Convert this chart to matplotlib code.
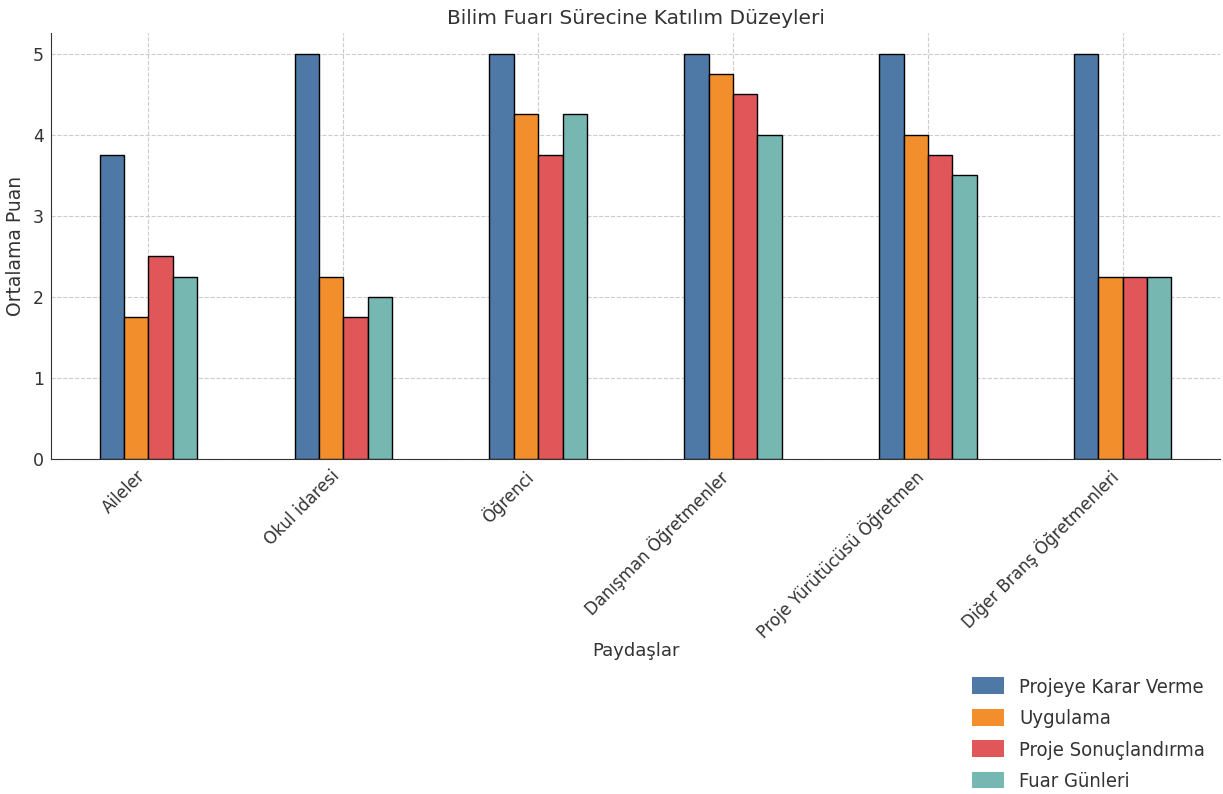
import matplotlib.pyplot as plt
import numpy as np

# data
stakeholders = ["Aileler", "Okul idaresi", "Öğrenci", "Danışman Öğretmenler",
                "Proje Yürütücüsü Öğretmen", "Diğer Branş Öğretmenleri"]
series_names = ["Projeye Karar Verme", "Uygulama", "Proje Sonuçlandırma", "Fuar Günleri"]
karar_verme = [3.75, 5, 5, 5, 5, 5]
uygulama = [1.75, 2.25, 4.25, 4.75, 4.0, 2.25]
sonuclandirma = [2.5, 1.75, 3.75, 4.5, 3.75, 2.25]
fuar_gunleri = [2.25, 2.0, 4.25, 4.0, 3.5, 2.25]

colors = ["#4e79a7", "#f28e2b", "#e15759", "#76b7b2"]
text_color = "#333333"

fig = plt.figure(figsize=(12.23, 7.94), dpi=100)
ax = fig.add_axes([0.0417, 0.422, 0.956, 0.536])

x = np.arange(len(stakeholders))
width = 0.125
all_series = [karar_verme, uygulama, sonuclandirma, fuar_gunleri]
for i, values in enumerate(all_series):
    ax.bar(x + (i - 1.5) * width, values, width, color=colors[i],
           edgecolor="black", linewidth=1, label=series_names[i], zorder=3)

ax.set_xlim(-0.5, 5.5)
ax.set_ylim(0, 5.25)
ax.set_xticks(x)
ax.set_xticklabels(stakeholders, rotation=45, ha="right", fontsize=11, color=text_color)
ax.set_yticks(range(6))
ax.tick_params(axis="both", length=0, labelsize=12, colors=text_color)
ax.tick_params(axis="x", pad=6)
ax.tick_params(axis="y", labelsize=12.5, pad=5)

ax.grid(True, linestyle="--", color="#cccccc", linewidth=0.8, zorder=0)
ax.spines["top"].set_visible(False)
ax.spines["right"].set_visible(False)
ax.spines["left"].set_color(text_color)
ax.spines["bottom"].set_color(text_color)

ax.set_title("Bilim Fuarı Sürecine Katılım Düzeyleri", fontsize=14.5, color=text_color, pad=7)
ax.set_ylabel("Ortalama Puan", fontsize=13.5, color=text_color, labelpad=6)
ax.set_xlabel("Paydaşlar", fontsize=13, color=text_color, labelpad=0)

leg = fig.legend(loc="lower right", bbox_to_anchor=(1.0, -0.019), frameon=False,
                 prop={"family": "DejaVu Sans", "stretch": "condensed", "size": 14.5},
                 handlelength=1.6, handleheight=0.9, labelspacing=0.6, handletextpad=0.75)
for t in leg.get_texts():
    t.set_color(text_color)
for h in leg.legend_handles:
    h.set_edgecolor("none")

fig.savefig("out.png", dpi=100)
